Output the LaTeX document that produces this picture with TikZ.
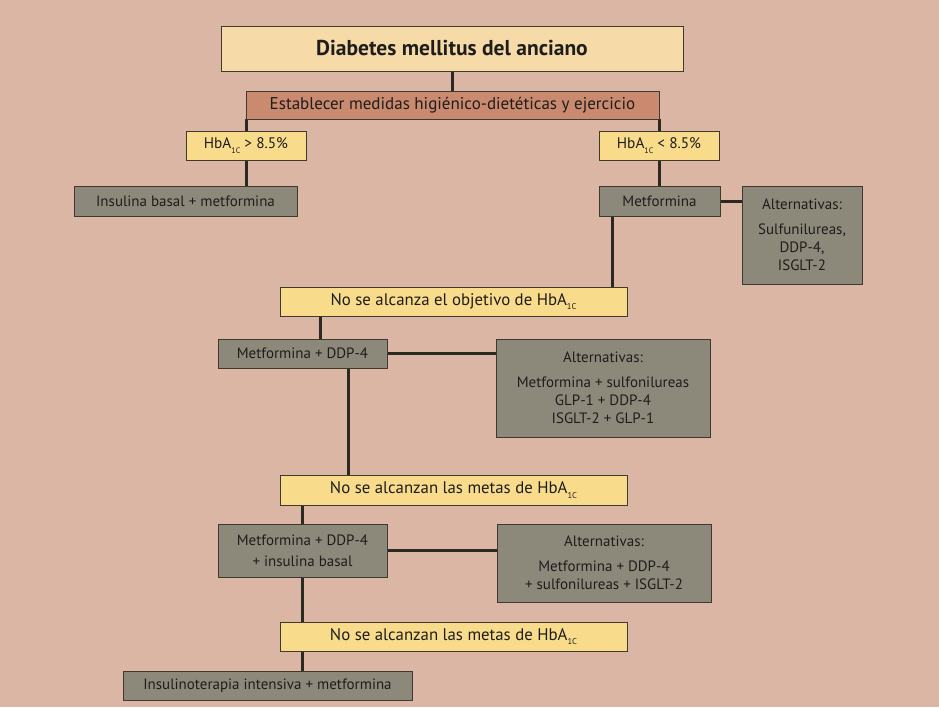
\documentclass[tikz,border=0pt]{standalone}
\usepackage{fontspec}
\setmainfont{PT Sans}
\usetikzlibrary{calc}
\definecolor{bgc}{HTML}{DCB6A4}
\definecolor{titc}{HTML}{F6DBA9}
\definecolor{estc}{HTML}{C98A6F}
\definecolor{yel}{HTML}{F8DB8B}
\definecolor{gry}{HTML}{8C897B}
\definecolor{bordc}{HTML}{3E3B2E}
\definecolor{linec}{HTML}{2A2A22}
\definecolor{txtc}{HTML}{1F1D1C}
\newcommand{\hba}[1][8.5]{HbA\raisebox{-0.55ex}{\fontsize{#1}{#1}\selectfont 1C}}
\pgfdeclarelayer{bgl}
\pgfdeclarelayer{lines}
\pgfsetlayers{bgl,lines,main}
\begin{document}
\begin{tikzpicture}[x=1pt,y=-1pt,
  box/.style={draw=bordc, line width=0.8pt, inner sep=0pt, text=txtc, align=center, font=\fontsize{15}{18}\selectfont},
  ybox/.style={box, fill=yel, font=\fontsize{16.8}{20}\selectfont},
  gbox/.style={box, fill=gry},
  conn/.style={line width=3pt, draw=linec}]
\useasboundingbox (0,0) rectangle (939,707);
\begin{pgfonlayer}{bgl}
\fill[bgc] (0,0) rectangle (939,707);
\end{pgfonlayer}
% nodes
\node[box, fill=titc, minimum width=462pt, minimum height=45pt, font=\fontsize{21.5}{24}\selectfont\bfseries] (title) at (452,48.5) {Diabetes mellitus del anciano};
\node[box, fill=estc, minimum width=413pt, minimum height=28pt, font=\fontsize{17}{20}\selectfont] (estab) at (452.5,105) {Establecer medidas higiénico-dietéticas y ejercicio};
\node[box, fill=yel, minimum width=120pt, minimum height=29pt, font=\fontsize{15.3}{18}\selectfont] (hbg) at (246,145.5) {\hba[8] > 8.5\%};
\node[box, fill=yel, minimum width=120pt, minimum height=29pt, font=\fontsize{15.3}{18}\selectfont] (hbl) at (659,145.5) {\hba[8] < 8.5\%};
\node[gbox, minimum width=223pt, minimum height=30pt] (insb) at (185.5,201) {Insulina basal + metformina};
\node[gbox, minimum width=121pt, minimum height=30pt] (metf) at (659.5,201) {Metformina};
\node[gbox, minimum width=120pt, minimum height=98pt] (alt1) at (802,235) {Alternativas:\\[7pt]Sulfunilureas,\\DDP-4,\\ISGLT-2};
\node[ybox, minimum width=347pt, minimum height=29pt] (nsa1) at (453.5,301.5) {No se alcanza el objetivo de \hba};
\node[gbox, minimum width=169pt, minimum height=29pt] (md) at (302.5,353.5) {Metformina + DDP-4};
\node[gbox, minimum width=214pt, minimum height=98pt] (alt2) at (603,388) {Alternativas:\\[7pt]Metformina + sulfonilureas\\GLP-1 + DDP-4\\ISGLT-2 + GLP-1};
\node[ybox, minimum width=347pt, minimum height=30pt] (nsa2) at (453.5,490) {No se alcanzan las metas de \hba};
\node[gbox, minimum width=169pt, minimum height=53pt, font=\fontsize{15}{21}\selectfont] (mdi) at (302.5,550.5) {Metformina + DDP-4\\+ insulina basal};
\node[gbox, minimum width=214pt, minimum height=78pt] (alt3) at (604,563) {Alternativas:\\[7pt]Metformina + DDP-4\\+ sulfonilureas + ISGLT-2};
\node[ybox, minimum width=347pt, minimum height=29pt] (nsa3) at (453.5,636.5) {No se alcanzan las metas de \hba};
\node[gbox, minimum width=289pt, minimum height=29pt] (ins) at (267.5,685.5) {Insulinoterapia intensiva + metformina};
% connectors
\coordinate (m1) at ($(metf.south west)+(14,0)$);
\coordinate (n1) at ($(nsa1.south west)+(41,0)$);
\coordinate (d1) at ($(md.south west)+(131,0)$);
\coordinate (n3) at ($(nsa3.south west)+(23,0)$);
\begin{pgfonlayer}{lines}
\draw[conn] (title.south) -- (title.south |- estab.north);
\draw[conn] (hbg.north |- estab.south) -- (hbg.north);
\draw[conn] (hbl.north |- estab.south) -- (hbl.north);
\draw[conn] (hbg.south) -- (hbg.south |- insb.north);
\draw[conn] (hbl.south) -- (hbl.south |- metf.north);
\draw[conn] (metf.east) -- (metf.east -| alt1.west);
\draw[conn] (m1) -- (m1 |- nsa1.north);
\draw[conn] (n1) -- (n1 |- md.north);
\draw[conn] (md.east) -- (md.east -| alt2.west);
\draw[conn] (d1) -- (d1 |- nsa2.north);
\draw[conn] (mdi.north |- nsa2.south) -- (mdi.north);
\draw[conn] (mdi.east) -- (mdi.east -| alt3.west);
\draw[conn] (mdi.south) -- (mdi.south |- nsa3.north);
\draw[conn] (n3) -- (n3 |- ins.north);
\end{pgfonlayer}
\end{tikzpicture}
\end{document}
